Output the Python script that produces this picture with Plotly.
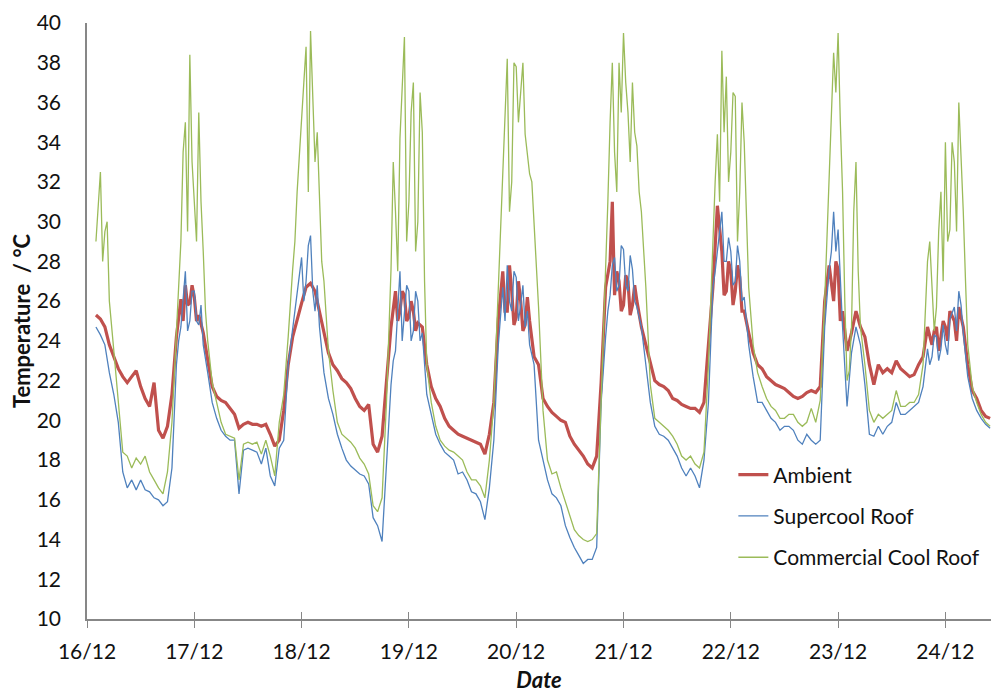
import pandas as pd
import plotly.graph_objects as go

# Hourly readings from 16/12 02:00 to 24/12 10:00
start_time = "2013-12-16 02:00"
day0 = "2013-12-16 00:00"

ambient = [
    25.3, 25.1, 24.7, 23.8, 23.2, 22.6, 22.2, 21.9, 22.2, 22.5, 21.7, 21.1, 20.7, 21.9, 19.5, 19.1, 19.7, 21.3, 24.2, 26.1, 26.8, 25.9,
    26.2, 25.3, 24.4, 23.0, 21.7, 21.2, 21.0, 20.9, 20.6, 20.3, 19.6, 19.8, 19.9, 19.8, 19.8, 19.7, 19.8, 19.3, 18.7, 19.0, 20.5, 22.8, 24.2, 25.1,
    25.9, 26.7, 26.9, 26.5, 25.5, 24.4, 23.4, 22.8, 22.5, 22.1, 21.9, 21.6, 21.1, 20.7, 20.5, 20.8, 18.8, 18.4, 19.2, 22.0, 24.7, 26.5, 25.5, 26.3,
    25.2, 25.5, 24.9, 24.7, 22.8, 21.7, 21.1, 20.7, 20.1, 19.7, 19.5, 19.3, 19.2, 19.1, 19.0, 18.9, 18.8, 18.3, 19.3, 20.9, 25.1, 27.5, 25.5, 26.5,
    25.2, 26.0, 24.8, 25.0, 23.2, 22.8, 21.1, 20.7, 20.4, 20.2, 20.0, 19.9, 19.2, 18.8, 18.5, 18.2, 17.8, 17.6, 18.2, 21.9, 26.7, 28.0, 26.3, 27.0,
    25.8, 27.0, 25.8, 26.0, 24.7, 23.8, 22.8, 22.0, 21.8, 21.7, 21.5, 21.1, 21.0, 20.8, 20.7, 20.6, 20.6, 20.4, 20.9, 23.8, 26.7, 30.8, 28.5, 26.5,
    27.5, 26.5, 27.2, 25.5, 24.4, 23.4, 22.8, 22.6, 22.2, 22.0, 21.8, 21.7, 21.6, 21.4, 21.2, 21.1, 21.2, 21.4, 21.5, 21.4, 21.7, 26.0, 27.8, 26.0,
    27.6, 25.5, 23.5, 24.4, 25.5, 24.7, 24.2, 22.8, 21.8, 22.8, 22.4, 22.6, 22.4, 23.0, 22.6, 22.4, 22.2, 22.3, 22.8, 23.2, 24.7, 23.8, 24.7, 24.2,
    24.7, 25.5, 25.0, 25.7, 24.7, 22.8, 21.5, 21.1, 20.5, 20.2, 20.1,
]

supercool = [
    24.7, 24.3, 23.8, 22.4, 21.3, 19.9, 17.4, 16.6, 17.0, 16.5, 17.0, 16.5, 16.4, 16.1, 16.0, 15.7, 15.9, 17.6, 22.8, 24.7, 27.5, 25.0,
    26.5, 24.8, 23.8, 22.4, 20.9, 20.1, 19.5, 19.2, 19.0, 19.0, 16.3, 18.5, 18.6, 18.5, 18.4, 17.8, 18.6, 17.2, 16.7, 18.6, 19.0, 22.8, 24.7, 26.3,
    28.2, 27.0, 29.3, 25.5, 24.7, 22.4, 21.1, 20.3, 19.3, 18.6, 18.0, 17.7, 17.5, 17.3, 17.2, 16.8, 15.1, 14.7, 13.9, 18.0, 21.8, 23.5, 27.5, 25.5,
    26.5, 24.5, 26.0, 24.4, 21.3, 20.3, 19.3, 18.8, 18.4, 18.2, 18.0, 17.3, 17.4, 17.0, 16.4, 16.3, 15.9, 15.0, 16.6, 19.0, 23.8, 26.7, 27.8, 25.5,
    27.2, 25.8, 24.7, 23.8, 22.8, 19.0, 18.0, 17.0, 16.3, 16.1, 15.7, 14.7, 14.1, 13.6, 13.2, 12.8, 13.0, 13.0, 13.6, 20.9, 24.2, 26.3, 28.2, 26.8,
    28.6, 26.5, 27.6, 25.7, 24.7, 22.8, 20.9, 19.7, 19.3, 19.2, 19.0, 18.6, 18.2, 17.6, 17.2, 17.6, 17.2, 16.6, 18.0, 20.9, 26.7, 28.6, 30.5, 28.0,
    28.5, 27.0, 28.0, 26.2, 23.8, 22.2, 20.9, 20.9, 20.5, 20.1, 19.9, 19.5, 19.7, 19.7, 19.5, 19.0, 18.8, 19.3, 19.0, 18.8, 19.0, 24.7, 27.6, 30.5,
    29.6, 24.7, 20.7, 23.4, 24.7, 23.8, 21.8, 19.3, 19.2, 19.7, 19.3, 19.7, 19.9, 20.9, 20.3, 20.3, 20.5, 20.7, 20.9, 21.7, 23.6, 23.2, 24.2, 23.6,
    23.8, 25.1, 25.7, 26.5, 24.4, 22.2, 21.1, 20.5, 20.1, 19.8, 19.6,
]

commercial = [
    29.0, 32.5, 29.5, 26.0, 23.5, 21.1, 18.4, 18.2, 17.6, 18.1, 17.8, 18.2, 17.4, 17.0, 16.6, 16.3, 17.4, 19.9, 24.5, 29.0, 35.0, 38.4,
    31.0, 35.5, 28.5, 24.0, 21.9, 20.9, 19.9, 19.3, 19.2, 19.1, 17.0, 18.8, 18.9, 18.8, 18.9, 18.3, 19.0, 18.2, 17.2, 19.9, 21.3, 24.2, 27.6, 31.5,
    35.0, 38.8, 39.6, 33.0, 31.0, 27.0, 23.5, 21.5, 19.9, 19.3, 19.1, 18.9, 18.6, 18.1, 17.8, 17.3, 15.7, 15.4, 16.1, 21.0, 27.6, 30.5, 34.2, 39.3,
    31.0, 37.0, 30.0, 34.5, 22.8, 20.9, 19.7, 19.0, 18.7, 18.5, 18.4, 18.2, 18.0, 17.4, 17.0, 17.0, 16.7, 16.1, 18.0, 20.9, 26.7, 32.0, 38.2, 32.0,
    37.8, 36.5, 34.4, 32.4, 30.1, 25.7, 20.5, 18.0, 17.3, 17.4, 16.6, 15.9, 15.1, 14.5, 14.2, 14.0, 13.9, 14.0, 14.3, 20.9, 26.7, 35.0, 33.5, 38.0,
    39.5, 35.5, 37.0, 33.8, 30.5, 26.7, 21.8, 20.1, 19.9, 19.7, 19.5, 19.2, 18.8, 18.2, 18.0, 18.2, 17.8, 17.6, 18.4, 22.8, 28.6, 34.4, 38.6, 37.3,
    33.5, 36.3, 31.5, 34.0, 26.7, 23.8, 22.4, 21.7, 21.1, 20.7, 20.5, 20.1, 20.1, 20.3, 20.3, 19.9, 19.7, 19.9, 20.6, 19.9, 21.0, 26.0, 31.5, 38.5,
    39.5, 31.5, 22.0, 24.7, 33.0, 24.7, 22.8, 20.5, 19.9, 20.3, 20.1, 20.3, 20.5, 21.5, 20.7, 20.7, 20.9, 20.9, 21.3, 22.8, 28.0, 26.7, 25.7, 31.5,
    34.0, 29.6, 33.0, 36.0, 30.5, 23.8, 21.7, 20.9, 20.3, 19.9, 19.7,
]

# Extra half-hour readings during the noisy daytime periods: (hours after 16/12 00:00, value)
ambient_extra = [
    (21.5, 25.0), (22.5, 25.8), (23.5, 26.8), (24.5, 25.0),
    (69.5, 25.0), (70.5, 26.5), (71.5, 25.0), (72.5, 26.0), (73.5, 24.5),
    (93.5, 25.5), (94.5, 27.8), (95.5, 24.8), (96.5, 27.0), (97.5, 24.5), (98.5, 26.2),
    (117.5, 31.0), (118.5, 27.5), (119.5, 25.5), (120.5, 27.3), (121.5, 25.3), (122.5, 26.8),
    (141.5, 29.5), (142.5, 26.3), (143.5, 28.0), (144.5, 25.8), (145.5, 27.8), (146.5, 25.5),
    (167.5, 28.0), (168.5, 25.0),
    (189.5, 24.5), (190.5, 23.5), (191.5, 25.0), (192.5, 24.0), (194.5, 24.0),
]
supercool_extra = [
    (20.5, 24.0), (21.5, 26.0), (22.5, 24.5), (23.5, 26.5), (24.5, 25.0), (25.5, 25.8),
    (46.5, 25.5), (47.5, 27.5), (48.5, 26.0), (49.5, 28.8), (50.5, 26.5), (51.5, 26.8),
    (68.5, 23.0), (69.5, 25.5), (70.5, 24.0), (71.5, 26.8), (72.5, 24.0), (73.5, 26.5), (74.5, 24.0), (75.5, 23.0),
    (93.5, 25.0), (94.5, 26.0), (95.5, 27.5), (96.5, 25.0), (97.5, 26.8), (98.5, 25.5),
    (116.5, 25.5), (117.5, 27.8), (118.5, 26.5), (119.5, 28.8), (120.5, 26.8), (121.5, 28.3), (122.5, 26.0),
    (140.5, 27.5), (141.5, 29.5), (142.5, 28.0), (143.5, 29.2), (144.5, 26.8), (145.5, 28.8), (146.5, 26.0),
    (166.5, 28.5), (167.5, 28.5),
    (188.5, 22.8), (189.5, 24.3), (190.5, 23.0), (191.5, 24.8), (192.5, 23.3), (194.5, 24.5), (195.5, 25.8),
]
commercial_extra = [
    (2.5, 31.0), (3.5, 28.0), (4.5, 30.0),
    (20.5, 27.0), (21.5, 33.5), (22.5, 29.5), (23.5, 33.0), (24.5, 29.0), (25.5, 31.0), (26.5, 25.5),
    (46.5, 29.0), (47.5, 33.5), (48.5, 37.0), (49.5, 31.5), (50.5, 36.0), (51.5, 34.5), (52.5, 28.0),
    (68.5, 33.0), (69.5, 27.5), (70.5, 36.5), (71.5, 29.0), (72.5, 35.5), (73.5, 28.5), (74.5, 36.5), (75.5, 27.0),
    (92.5, 30.0), (93.5, 35.5), (94.5, 30.5), (95.5, 38.0), (96.5, 35.0), (97.5, 38.0), (98.5, 33.5), (99.5, 32.0),
    (116.5, 31.0), (117.5, 38.0), (118.5, 31.5), (119.5, 35.5), (120.5, 37.0), (121.5, 33.0), (122.5, 34.5), (123.5, 31.5),
    (139.5, 26.0), (140.5, 32.0), (141.5, 31.0), (142.5, 34.5), (143.5, 32.0), (144.5, 36.5), (145.5, 29.0), (146.5, 36.0), (147.5, 30.0),
    (165.5, 29.0), (166.5, 35.0), (167.5, 36.5), (168.5, 35.0), (169.5, 26.0), (170.5, 22.5), (171.5, 30.5), (172.5, 27.5),
    (187.5, 25.5), (188.5, 29.0), (189.5, 24.5), (190.5, 29.5), (191.5, 27.0), (192.5, 29.0), (193.5, 34.0), (194.5, 29.5), (195.5, 33.5), (196.5, 27.0),
]

series_names = ["Ambient", "Supercool Roof", "Commercial Cool Roof"]
series_colors = ["#C0504D", "#4F81BD", "#9BBB59"]
series_widths = [3.2, 1.3, 1.3]

tick_dates = pd.date_range("2013-12-16", "2013-12-24", freq="D")
tick_labels = [d.strftime("%d/%m") for d in tick_dates]
x_range = ["2013-12-16 00:00", "2013-12-24 10:12"]


def build(values, extra):
    t = list(pd.date_range(start_time, periods=len(values), freq="h"))
    v = list(values)
    for h, val in extra:
        t.append(pd.Timestamp(day0) + pd.Timedelta(hours=h))
        v.append(val)
    df = pd.DataFrame({"t": t, "v": v}).sort_values("t")
    return df["t"], df["v"]


FONT = "Lato"
fig = go.Figure()
for i, (name, vals, extra) in enumerate(zip(series_names, [ambient, supercool, commercial],
                                           [ambient_extra, supercool_extra, commercial_extra])):
    tx, vy = build(vals, extra)
    fig.add_trace(go.Scatter(
        x=tx, y=vy, mode="lines", name=name, legendgroup=f"g{i}",
        line=dict(color=series_colors[i], width=series_widths[i]),
    ))

# helper trace on an overlaid axis that draws the inner half of the crossing tick marks
fig.add_trace(go.Scatter(x=[tick_dates[0]], y=[None], xaxis="x2", showlegend=False, hoverinfo="skip"))

fig.update_layout(
    width=991, height=693,
    margin=dict(l=87, r=0, t=23, b=74),
    paper_bgcolor="white", plot_bgcolor="white",
    font=dict(family=FONT, size=21, color="#111111"),
    showlegend=True,
    legend=dict(
        x=0.715, y=0.276, xanchor="left", yanchor="top",
        bgcolor="rgba(0,0,0,0)", font=dict(size=21, family=FONT),
        traceorder="grouped", tracegroupgap=11, itemwidth=30,
    ),
    xaxis=dict(
        range=x_range, tickvals=tick_dates, ticktext=tick_labels,
        showgrid=False, zeroline=False, showline=True, linecolor="#878787", linewidth=2,
        ticks="outside", ticklen=7, tickcolor="#878787", tickwidth=1,
        ticklabelstandoff=6,
        title=dict(text="<b><i>Date</i></b>", font=dict(size=22, family=FONT), standoff=14),
    ),
    xaxis2=dict(
        range=x_range, tickvals=tick_dates, showticklabels=False, overlaying="x",
        showgrid=False, zeroline=False, showline=False,
        ticks="inside", ticklen=7, tickcolor="#878787", tickwidth=1,
    ),
    yaxis=dict(
        range=[10, 40], dtick=2, tick0=10, showgrid=False, zeroline=False,
        showline=True, linecolor="#878787", linewidth=1.5, ticks="",
        ticklabelstandoff=20,
        title=dict(text="<b>Temperature&nbsp; / °C</b>", font=dict(size=22, family=FONT), standoff=0),
    ),
)

fig.write_html("out.html")
